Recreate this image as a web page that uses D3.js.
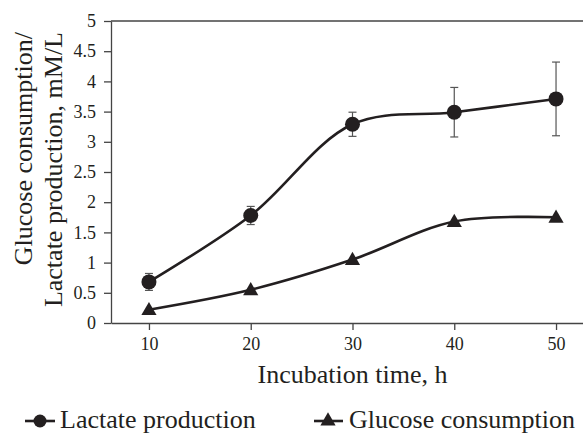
<!DOCTYPE html>
<html><head><meta charset="utf-8">
<script src="https://cdn.jsdelivr.net/npm/d3@7"></script>
<style>body{margin:0;background:#fff}svg{display:block}
text{font-family:"Liberation Serif","DejaVu Serif","Noto Serif",serif}</style>
</head><body>
<svg id="c" width="583" height="433"></svg>
<script>
const hours = [10, 20, 30, 40, 50];
const lactate = [0.68, 1.78, 3.29, 3.49, 3.71];
const lactateErr = [0.14, 0.15, 0.2, 0.41, 0.61];
const glucose = [0.22, 0.55, 1.05, 1.68, 1.75];
const yTicks = [0, 0.5, 1, 1.5, 2, 2.5, 3, 3.5, 4, 4.5, 5];
const xTicks = [10, 20, 30, 40, 50];
const seriesNames = ["Lactate production", "Glucose consumption"];
const yTitle = ["Glucose consumption/", "Lactate production, mM/L"];
const xTitle = "Incubation time, h";

const ink = "#231f20";
const svg = d3.select("#c");
const L = 111, R = 583, T = 21, B = 323;
const x = d3.scaleLinear().domain([6.27, 52.65]).range([L, R]);
const y = d3.scaleLinear().domain([0, 5]).range([B, T]);

// axes
const gx = svg.append("g").attr("transform", `translate(0,${B})`)
  .call(d3.axisBottom(x).tickValues(xTicks).tickSize(7).tickSizeOuter(0).tickPadding(6));
const gy = svg.append("g").attr("transform", `translate(${L},0)`)
  .call(d3.axisLeft(y).tickValues(yTicks).tickSize(7).tickSizeOuter(0).tickPadding(8)
    .tickFormat(d => String(d)));
[gx, gy].forEach(g => {
  g.attr("font-family", null).attr("font-size", null);
  g.selectAll("path.domain").attr("stroke", "#444").attr("stroke-width", 1.3);
  g.selectAll(".tick line").attr("stroke", "#444").attr("stroke-width", 1.3);
  g.selectAll("text").attr("fill", ink).style("font-size", "18px");
});
gx.selectAll("text").attr("dy", "0.75em");
// top border
svg.append("line").attr("x1", L).attr("x2", R).attr("y1", y(5)).attr("y2", y(5))
  .attr("stroke", "#444").attr("stroke-width", 1.3);

// titles
svg.append("text").attr("x", (x(10) + x(50)) / 2).attr("y", 383)
  .attr("text-anchor", "middle").style("font-size", "26px")
  .attr("fill", ink).text(xTitle);
yTitle.forEach((t, i) => {
  svg.append("text").attr("transform", `translate(${32 + i * 30},32) rotate(-90)`)
    .attr("text-anchor", "end").style("font-size", "26px")
    .attr("fill", ink).text(t);
});

// lines
const line = d3.line().x(d => x(d[0])).y(d => y(d[1])).curve(d3.curveCatmullRom.alpha(0.5));
const lacPts = hours.map((h, i) => [h, lactate[i]]);
const gluPts = hours.map((h, i) => [h, glucose[i]]);
svg.append("path").attr("d", line(lacPts)).attr("fill", "none").attr("stroke", ink).attr("stroke-width", 2.6);
svg.append("path").attr("d", line(gluPts)).attr("fill", "none").attr("stroke", ink).attr("stroke-width", 2.6);

// error bars
const eb = svg.append("g").attr("stroke", "#555").attr("stroke-width", 1.2);
hours.forEach((h, i) => {
  const cx = x(h), y1 = y(lactate[i] + lactateErr[i]), y2 = y(lactate[i] - lactateErr[i]);
  eb.append("line").attr("x1", cx).attr("x2", cx).attr("y1", y1).attr("y2", y2);
  eb.append("line").attr("x1", cx - 4).attr("x2", cx + 4).attr("y1", y1).attr("y2", y1);
  eb.append("line").attr("x1", cx - 4).attr("x2", cx + 4).attr("y1", y2).attr("y2", y2);
});

// markers
const tri = d3.symbol().type(d3.symbolTriangle).size(100);
svg.append("g").selectAll("circle").data(lacPts).join("circle")
  .attr("cx", d => x(d[0])).attr("cy", d => y(d[1])).attr("r", 7.5).attr("fill", ink);
svg.append("g").selectAll("path").data(gluPts).join("path")
  .attr("d", tri).attr("transform", d => `translate(${x(d[0])},${y(d[1]) + 1})`).attr("fill", ink);

// legend
const ly = 421;
const lg = svg.append("g");
lg.append("line").attr("x1", 25).attr("x2", 55).attr("y1", ly).attr("y2", ly).attr("stroke", ink).attr("stroke-width", 2.6);
lg.append("circle").attr("cx", 40).attr("cy", ly).attr("r", 6.5).attr("fill", ink);
lg.append("text").attr("x", 60).attr("y", ly + 7).style("font-size", "26px").attr("fill", ink).text(seriesNames[0]);
lg.append("line").attr("x1", 314).attr("x2", 343).attr("y1", ly).attr("y2", ly).attr("stroke", ink).attr("stroke-width", 2.6);
lg.append("path").attr("d", tri).attr("transform", `translate(328,${ly})`).attr("fill", ink);
lg.append("text").attr("x", 349).attr("y", ly + 7).style("font-size", "26px").attr("fill", ink).text(seriesNames[1]);
</script>
</body></html>
